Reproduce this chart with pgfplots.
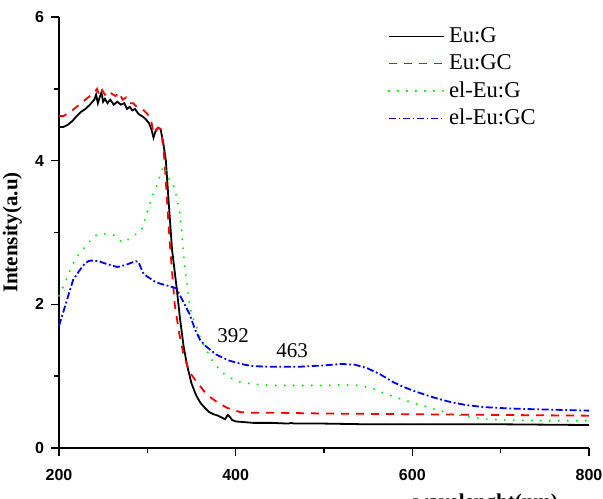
\documentclass[border=0pt]{standalone}
\usepackage{pgfplots}
\pgfplotsset{compat=1.18}
\usepackage{fontspec}
\setmainfont{Liberation Serif}
\newfontfamily\arialf{Liberation Sans}

\definecolor{euG}{HTML}{000000}
\definecolor{euGC}{HTML}{FF0000}
\definecolor{elEuG}{HTML}{00EE00}
\definecolor{elEuGC}{HTML}{0000FF}

\begin{document}
\begin{tikzpicture}
\begin{axis}[
  name=ax,
  scale only axis,
  width=265pt,
  height=215.5pt,
  xmin=200, xmax=800,
  ymin=0, ymax=6,
  axis lines=left,
  axis line style={-, black, line width=0.8pt},
  xtick={200,400,600,800},
  minor xtick={300,500,700},
  ytick={0,2,4,6},
  minor ytick={1,3,5},
  tick align=outside,
  major tick length=4pt,
  minor tick length=2.5pt,
  tick style={black, line width=0.8pt},
  /pgf/number format/assume math mode=true,
  tick label style={font=\arialf\bfseries\fontsize{8}{9}\selectfont},
  xticklabel style={yshift=-3pt},
  ylabel={Intensity(a.u)},
  ylabel style={font=\bfseries\fontsize{10.5}{12}\selectfont, at={(axis description cs:0,0.5)}, anchor=south, rotate=0, yshift=15pt},
  legend cell align={left},
  legend style={at={(axis cs:565,5.97)}, anchor=north west, draw=none, fill=none,
    font=\fontsize{11.3}{13.7}\selectfont, row sep=0.5pt},
  legend image code/.code={\draw[#1] (0pt,0pt) -- (24pt,0pt); \path (0pt,0pt) -- (27.5pt,0pt);},
  clip=false,
]
\addplot[euG, line width=0.9pt] coordinates {
(200,4.47)(205,4.47)(210,4.5)(215,4.55)(220,4.62)(225,4.68)(230,4.72)(235,4.78)(240,4.85)(242,4.92)(244,4.80)(246,4.88)(248,4.95)(250,4.82)(252,4.86)(255,4.80)(258,4.85)(262,4.78)(266,4.82)(270,4.78)(274,4.80)(277,4.72)(280,4.75)(283,4.70)(286,4.72)(290,4.65)(294,4.62)(298,4.58)(302,4.52)(305,4.42)(307,4.32)(309,4.40)(312,4.46)(315,4.44)(318,4.25)(321,4.0)(324,3.45)(328,2.76)(333,2.25)(337,1.8)(341,1.42)(345,1.15)(350,0.9)(355,0.74)(360,0.63)(365,0.56)(370,0.5)(375,0.47)(380,0.45)(385,0.42)(388,0.40)(391,0.46)(393,0.44)(396,0.39)(400,0.37)(410,0.36)(420,0.35)(440,0.35)(460,0.34)(463,0.35)(466,0.34)(500,0.34)(550,0.33)(600,0.33)(700,0.33)(800,0.32)
};
\addlegendentry{Eu:G}
\addplot[euGC, line width=0.9pt, dash pattern=on 4pt off 3.5pt] coordinates {
(200,4.62)(205,4.62)(210,4.66)(215,4.7)(220,4.75)(225,4.8)(230,4.85)(235,4.9)(240,4.95)(243,5.0)(246,4.9)(249,4.98)(252,4.92)(256,4.97)(260,4.93)(264,4.9)(268,4.95)(272,4.85)(276,4.88)(280,4.8)(284,4.8)(288,4.75)(292,4.72)(296,4.7)(300,4.65)(304,4.58)(307,4.38)(309,4.42)(312,4.46)(315,4.44)(318,4.2)(320,3.9)(323,3.3)(326,2.76)(331,2.0)(336,1.6)(341,1.3)(348,1.05)(356,0.92)(365,0.78)(372,0.7)(379,0.64)(390,0.56)(405,0.5)(420,0.49)(450,0.49)(500,0.48)(600,0.47)(700,0.46)(800,0.45)
};
\addlegendentry{Eu:GC}
\addplot[elEuG, line width=1.1pt, line cap=round, dash pattern=on 0pt off 4.5pt] coordinates {
(200,2.12)(205,2.25)(210,2.4)(215,2.55)(220,2.66)(225,2.74)(230,2.8)(235,2.88)(240,2.95)(246,2.98)(252,2.98)(258,2.97)(263,2.96)(268,2.9)(272,2.86)(276,2.88)(281,2.93)(286,2.97)(291,3.0)(294,3.05)(298,3.2)(303,3.41)(307,3.55)(311,3.66)(315,3.82)(318,3.93)(320,3.9)(323,3.78)(326,3.71)(329,3.68)(331,3.6)(334,3.45)(337,3.25)(339,3.0)(341,2.7)(343,2.45)(345,2.28)(348,1.97)(352,1.8)(356,1.68)(361,1.5)(367,1.36)(373,1.23)(379,1.13)(386,1.04)(395,0.97)(405,0.92)(420,0.89)(440,0.87)(470,0.87)(500,0.87)(520,0.88)(540,0.87)(555,0.83)(564,0.78)(580,0.71)(598,0.64)(620,0.56)(643,0.48)(660,0.44)(677,0.41)(700,0.39)(750,0.38)(800,0.38)
};
\addlegendentry{el-Eu:G}
\addplot[elEuGC, line width=0.9pt, dash pattern=on 3.5pt off 1.3pt on 0.9pt off 1.3pt] coordinates {
(200,1.7)(205,1.9)(210,2.1)(216,2.34)(222,2.45)(228,2.55)(233,2.6)(237,2.61)(245,2.6)(252,2.57)(260,2.54)(266,2.52)(270,2.53)(276,2.55)(282,2.58)(287,2.6)(290,2.59)(293,2.5)(296,2.42)(302,2.37)(308,2.32)(314,2.29)(320,2.27)(326,2.25)(333,2.22)(338,2.1)(343,1.98)(348,1.86)(354,1.65)(360,1.5)(366,1.42)(371,1.37)(378,1.3)(385,1.26)(392,1.22)(400,1.19)(410,1.16)(420,1.14)(440,1.13)(470,1.13)(500,1.15)(520,1.17)(535,1.16)(549,1.11)(563,1.03)(578,0.92)(590,0.85)(605,0.78)(625,0.7)(643,0.64)(660,0.6)(680,0.57)(710,0.55)(737,0.54)(770,0.53)(800,0.52)
};
\addlegendentry{el-Eu:GC}
\node[font=\fontsize{10.5}{12}\selectfont] at (axis cs:397,1.56) {392};
\node[font=\fontsize{10.5}{12}\selectfont] at (axis cs:464,1.36) {463};
\node[font=\bfseries\fontsize{10.5}{12}\selectfont, anchor=north] at (axis cs:683,-0.545) {wavelenght(nm)};
\end{axis}
\pgfresetboundingbox
\path[use as bounding box] ([xshift=-29.5pt,yshift=-25pt]ax.south west) rectangle ([xshift=272pt,yshift=224pt]ax.south west);
\end{tikzpicture}
\end{document}
